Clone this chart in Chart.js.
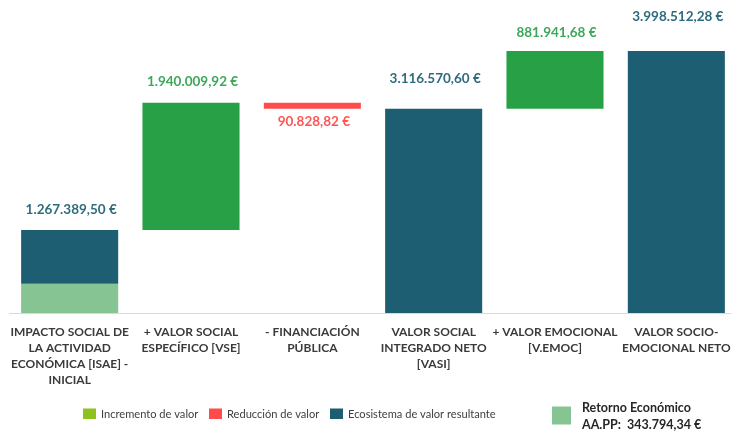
<!DOCTYPE html>
<html>
<head>
<meta charset="utf-8">
<script src="https://cdn.jsdelivr.net/npm/chart.js@4/dist/chart.umd.min.js"></script>
<style>
  html, body { margin: 0; padding: 0; background: #fff; overflow: hidden; }
  canvas { display: block; }
</style>
</head>
<body>
<canvas id="c" width="737" height="435" style="width:737px;height:435px"></canvas>
<script>
// ---- data ----
const categories = [
  ["IMPACTO SOCIAL DE", "LA ACTIVIDAD", "ECONÓMICA [ISAE] -", "INICIAL"],
  ["+ VALOR SOCIAL", "ESPECÍFICO [VSE]"],
  ["- FINANCIACIÓN", "PÚBLICA"],
  ["VALOR SOCIAL", "INTEGRADO NETO", "[VASI]"],
  ["+ VALOR EMOCIONAL", "[V.EMOC]"],
  ["VALOR SOCIO-", "EMOCIONAL NETO"]
];
const stepKinds = ["total", "increase", "decrease", "total", "increase", "total"];
const stepValues = [1267389.50, 1940009.92, 90828.82, 3116570.60, 881941.68, 3998512.28];
const retornoEconomico = 343794.34;      // value written in the legend
const retornoDrawnHeight = 446000;       // height of the light-green segment as drawn in the picture
const legendItems = ["Incremento de valor", "Reducción de valor", "Ecosistema de valor resultante"];

// ---- styles ----
const COL = {
  increase: "#28A046",
  decrease: "#FF4B4B",
  total: "#1E5E72",
  retorno: "#86C494",
  legendIncrease: "#8DC21F",
  lblIncrease: "#3DA85A",
  lblDecrease: "#FF5555",
  lblTotal: "#2F6B7E",
  text: "#404040"
};
const labelOffsets = [-20, -21.5, 13, -30, -18.5, -34.5];

// build floating bars
const ranges = [];
let running = 0;
stepKinds.forEach((k, i) => {
  const v = stepValues[i];
  if (k === "total") { ranges.push([i === 0 ? retornoDrawnHeight : 0, v]); running = v; }
  else if (k === "increase") { ranges.push([running, running + v]); running += v; }
  else { ranges.push([running - v, running]); running -= v; }
});
const retornoRanges = categories.map((_, i) => i === 0 ? [0, retornoDrawnHeight] : null);

function fmt(n) {
  const [int, dec] = n.toFixed(2).split(".");
  return int.replace(/\B(?=(\d{3})+(?!\d))/g, ".") + "," + dec + " €";
}

const FONT = "Lato, 'Open Sans', sans-serif";

const labelsPlugin = {
  id: "wfLabels",
  afterDatasetsDraw(chart) {
    const ctx = chart.ctx;
    const meta = chart.getDatasetMeta(1);
    ctx.save();
    ctx.font = "bold 13.5px " + FONT;
    ctx.textAlign = "center";
    ctx.textBaseline = "middle";
    meta.data.forEach((bar, i) => {
      const k = stepKinds[i];
      const top = Math.min(bar.y, bar.base);
      const bottom = Math.max(bar.y, bar.base);
      const y = k === "decrease" ? bottom + labelOffsets[i] : top + labelOffsets[i];
      ctx.fillStyle = k === "increase" ? COL.lblIncrease : k === "decrease" ? COL.lblDecrease : COL.lblTotal;
      ctx.fillText(fmt(stepValues[i]), bar.x + 1.5, y);
    });
    ctx.restore();
  },
  afterDraw(chart) {
    const ctx = chart.ctx;
    ctx.save();
    const boxes = [
      { x: 83, c: COL.legendIncrease, t: legendItems[0] },
      { x: 209, c: COL.decrease, t: legendItems[1] },
      { x: 330, c: COL.total, t: legendItems[2] }
    ];
    ctx.font = "11.1px " + FONT;
    ctx.textBaseline = "middle";
    ctx.textAlign = "left";
    boxes.forEach(b => {
      ctx.fillStyle = b.c;
      ctx.fillRect(b.x, 408.5, 13, 10.5);
      ctx.fillStyle = COL.text;
      ctx.fillText(b.t, b.x + 18, 414);
    });
    ctx.fillStyle = COL.retorno;
    ctx.fillRect(552, 406.5, 19, 18);
    ctx.fillStyle = "#262626";
    ctx.font = "bold 12.5px " + FONT;
    ctx.fillText("Retorno Económico", 582, 407.5);
    ctx.fillText("AA.PP:  " + fmt(retornoEconomico), 582, 424.5);
    ctx.restore();
  }
};

new Chart(document.getElementById("c"), {
  type: "bar",
  data: {
    labels: categories,
    datasets: [
      {
        label: "Retorno Económico",
        data: retornoRanges,
        backgroundColor: COL.retorno,
        grouped: false,
        order: 2
      },
      {
        label: "Waterfall",
        data: ranges,
        backgroundColor: stepKinds.map(k => COL[k]),
        grouped: false,
        order: 1
      }
    ]
  },
  options: {
    responsive: false,
    animation: false,
    layout: { padding: { left: 9, right: 0, top: 5, bottom: 0 } },
    datasets: { bar: { categoryPercentage: 1, barPercentage: 0.8, borderWidth: 0 } },
    plugins: { legend: { display: false }, tooltip: { enabled: false } },
    scales: {
      y: { display: false, min: 0, max: 4700000 },
      x: {
        grid: { display: false },
        border: { display: true, color: "#D9D9D9", width: 1 },
        ticks: {
          color: "#3A3A3A",
          font: { family: FONT, weight: "bold", size: 12, lineHeight: 1.34 },
          padding: 3,
          maxRotation: 0,
          autoSkip: false
        },
        afterFit(scale) { scale.height = 122; }
      }
    }
  },
  plugins: [labelsPlugin]
});
</script>
</body>
</html>
